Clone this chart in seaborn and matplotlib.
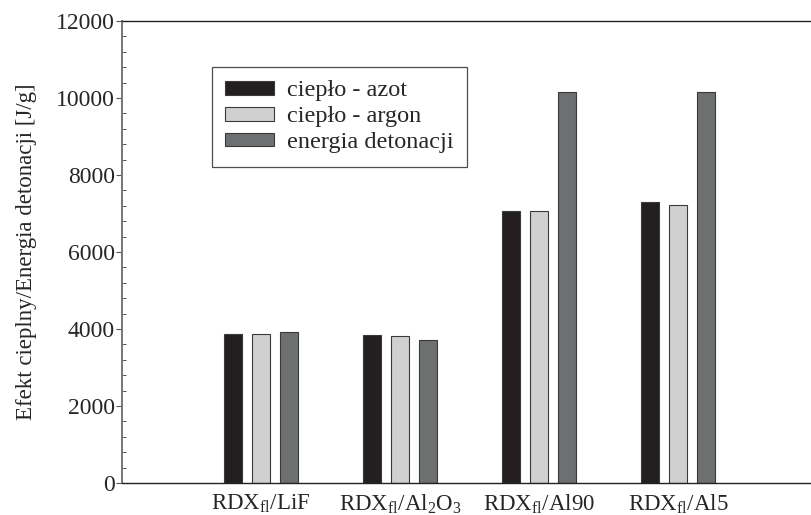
import pandas as pd
import matplotlib
matplotlib.use("Agg")
import matplotlib.pyplot as plt
import seaborn as sns

# ============================================================
# Data
# ============================================================

samples = [
    r"RDX$_\mathrm{fl}$/LiF",
    r"RDX$_\mathrm{fl}$/Al$_2$O$_3$",
    r"RDX$_\mathrm{fl}$/Al90",
    r"RDX$_\mathrm{fl}$/Al5",
]
series = ["ciepło - azot", "ciepło - argon", "energia detonacji"]

heat_nitrogen = [3870, 3855, 7055, 7300]
heat_argon = [3875, 3810, 7070, 7230]
detonation_energy = [3915, 3715, 10150, 10150]

colors = ["#231f20", "#d0d0d0", "#6d7070"]

df = pd.DataFrame({
    "sample": samples * 3,
    "series": [series[0]] * 4 + [series[1]] * 4 + [series[2]] * 4,
    "value": heat_nitrogen + heat_argon + detonation_energy,
})

# ============================================================
# Style
# ============================================================

sns.set_style("ticks")
plt.rcParams["font.family"] = ["Liberation Serif", "DejaVu Serif"]
plt.rcParams["mathtext.fontset"] = "custom"
plt.rcParams["mathtext.rm"] = "Liberation Serif"
plt.rcParams["mathtext.it"] = "Liberation Serif:italic"

fig = plt.figure(figsize=(8.11, 5.15), dpi=100)
ax = fig.add_axes([0.1504, 0.0621, 0.857, 0.8970])

# ============================================================
# Bars
# ============================================================

sns.barplot(
    data=df,
    x="sample",
    y="value",
    hue="series",
    hue_order=series,
    palette=colors,
    width=0.6,
    gap=0.37,
    edgecolor="#3a3a3a",
    linewidth=0.8,
    saturation=1,
    ax=ax,
)

# ============================================================
# Axes
# ============================================================

ax.set_xlim(-1, 4)
ax.set_ylim(0, 12000)
ax.set_yticks(range(0, 12001, 2000))
ax.set_yticks(range(0, 12001, 400), minor=True)
ax.set_xlabel("")
ax.set_ylabel("Efekt cieplny/Energia detonacji [J/g]", fontsize=16.5, labelpad=14)

ax.tick_params(axis="y", which="major", direction="out", length=4,
               width=0.8, labelsize=17, pad=1, color="#555555")
ax.tick_params(axis="y", which="minor", direction="in", length=3,
               width=0.7, color="#555555")
ax.tick_params(axis="x", length=0, labelsize=16.5, pad=7)

for side in ["top", "right", "bottom"]:
    ax.spines[side].set_visible(True)
    ax.spines[side].set_color("#222222")
    ax.spines[side].set_linewidth(1.0)
ax.spines["left"].set_color("#777777")
ax.spines["left"].set_linewidth(1.4)

# ============================================================
# Legend
# ============================================================

leg = ax.legend(
    loc="upper left",
    bbox_to_anchor=(0.1295, 0.9004),
    borderaxespad=0,
    fontsize=17.5,
    frameon=True,
    fancybox=False,
    edgecolor="#222222",
    handlelength=2.0,
    handleheight=0.5,
    handletextpad=0.55,
    labelspacing=0.2,
    borderpad=0.55,
)
leg.get_frame().set_linewidth(0.9)

fig.savefig("out.png", dpi=100)
